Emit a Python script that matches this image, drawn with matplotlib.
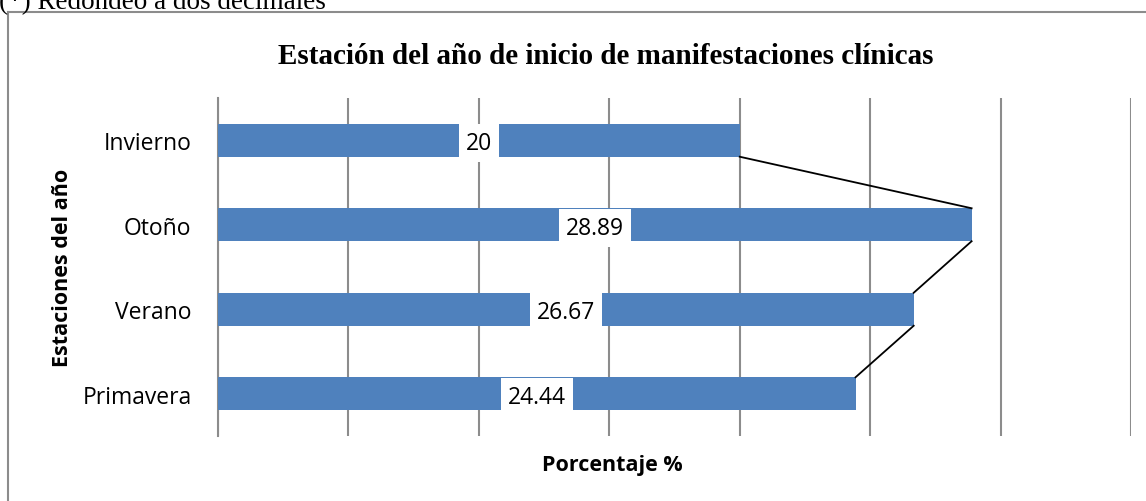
import matplotlib
matplotlib.use("Agg")
import matplotlib.pyplot as plt
from matplotlib.lines import Line2D

categories = ["Invierno", "Otoño", "Verano", "Primavera"]
values = [20, 28.89, 26.67, 24.44]
labels = ["20", "28.89", "26.67", "24.44"]
xticks = [0, 5, 10, 15, 20, 25, 30, 35]

W, H = 1146, 502
fig = plt.figure(figsize=(W / 100, H / 100), dpi=100)
ax = fig.add_axes([218 / W, 1 - 437 / H, (1131 - 218) / W, (437 - 99) / H])

bar_h = 0.39
ypos = list(range(len(categories)))
ax.barh(ypos, values, height=bar_h, color="#4F81BD", zorder=3)
ax.set_xlim(0, 35)
ax.set_ylim(3.5, -0.5)
ax.set_xticks(xticks)
ax.set_xticklabels([])
ax.tick_params(axis="x", length=0)
ax.tick_params(axis="y", length=0, pad=19)
ax.set_yticks(ypos)
ax.set_yticklabels(categories, fontfamily="Open Sans", fontsize=16.5)
ax.grid(axis="x", color="#8c8c8c", linewidth=1.5, zorder=0)
for s in ["top", "right", "bottom"]:
    ax.spines[s].set_visible(False)
ax.spines["left"].set_color("#8c8c8c")
ax.spines["left"].set_linewidth(1.5)

# series lines
for i in range(len(values) - 1):
    ax.plot([values[i], values[i + 1]], [i + bar_h / 2, i + 1 - bar_h / 2],
            color="black", linewidth=1.3, zorder=4)

# data labels
for i, (v, lab) in enumerate(zip(values, labels)):
    ax.text(v / 2, i, lab, ha="center", va="center_baseline", fontfamily="Open Sans",
            fontsize=16.5, zorder=5,
            bbox=dict(boxstyle="square,pad=0.3", facecolor="white", edgecolor="none"))

ax.set_xlabel("Porcentaje %", fontfamily="Open Sans", fontsize=15.5, fontweight="bold")
ax.set_ylabel("Estaciones del año", fontfamily="Open Sans", fontsize=15.5, fontweight="bold")
ax.xaxis.set_label_coords((612 - 218) / (1131 - 218), -(466 - 437) / (437 - 99))
ax.yaxis.set_label_coords(-(218 - 62) / (1131 - 218), 0.5)
ax.xaxis.label.set_va("center")
ax.yaxis.label.set_va("center")

fig.text(606 / W, 1 - 57 / H, "Estación del año de inicio de manifestaciones clínicas",
         ha="center", va="center", fontfamily="Liberation Serif", fontweight="bold", fontsize=21)

fig.text(-1 / W, 1 - 9 / H, "(*) Redondeo a dos decimales", ha="left", va="baseline",
         fontfamily="Liberation Serif", fontsize=19.5)

# outer frame (partially cut)
fig.add_artist(Line2D([8 / W, 1.0], [1 - 13 / H, 1 - 13 / H], color="#8c8c8c", linewidth=1.5))
fig.add_artist(Line2D([8 / W, 8 / W], [1 - 13 / H, 0], color="#8c8c8c", linewidth=1.5))

fig.savefig("out.png", dpi=100)
